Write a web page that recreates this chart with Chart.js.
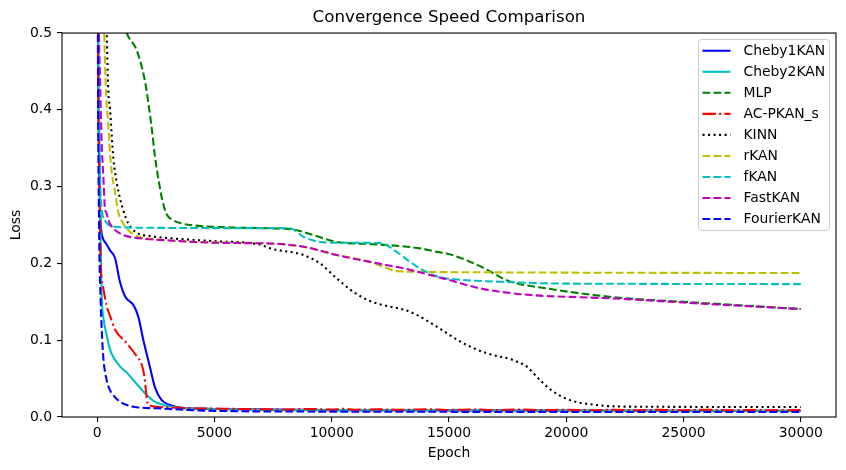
<!DOCTYPE html>
<html>
<head>
<meta charset="utf-8">
<script src="https://cdn.jsdelivr.net/npm/chart.js@4.4.1/dist/chart.umd.min.js"></script>
<style>
  html, body { margin: 0; padding: 0; background: #fff; }
  #wrap { width: 846px; height: 470px; position: relative; }
</style>
</head>
<body>
<div id="wrap"><canvas id="lossChart"></canvas></div>
<script>
// --- DATA ---
const seriesNames = ['Cheby1KAN', 'Cheby2KAN', 'MLP', 'AC-PKAN_s', 'KINN', 'rKAN', 'fKAN', 'FastKAN', 'FourierKAN'];
const xTicks = [0, 5000, 10000, 15000, 20000, 25000, 30000];
const yTicks = [0, 0.1, 0.2, 0.3, 0.4, 0.5];

// [epoch, loss]
const cheby1 = [[0, 1.0], [40, 0.5], [100, 0.3], [170, 0.245], [230, 0.234], [400, 0.225], [550, 0.217], [760, 0.207],
  [970, 0.176], [1190, 0.157], [1540, 0.146], [1750, 0.131], [1970, 0.100], [2250, 0.065], [2460, 0.039], [2750, 0.022],
  [3100, 0.0156], [3600, 0.012], [5000, 0.0105], [10000, 0.009], [20000, 0.0085], [30000, 0.008]];
const cheby2 = [[0, 1.0], [40, 0.5], [100, 0.35], [150, 0.22], [190, 0.16], [260, 0.13], [405, 0.107], [520, 0.091],
  [650, 0.080], [1000, 0.065], [1260, 0.058], [1540, 0.048], [1830, 0.038], [2100, 0.029], [2400, 0.021], [2900, 0.015],
  [3500, 0.012], [5000, 0.0105], [10000, 0.009], [30000, 0.008]];
const mlp = [[0, 1.0], [500, 0.7], [1000, 0.53], [1260, 0.5], [1680, 0.478], [2040, 0.437], [2200, 0.405], [2350, 0.37],
  [2460, 0.34], [2610, 0.31], [2780, 0.282], [2960, 0.264], [3200, 0.257], [3600, 0.252], [4100, 0.2495], [5520, 0.247],
  [7370, 0.2457], [8300, 0.2444], [8790, 0.241], [9640, 0.2327], [10210, 0.228], [11350, 0.2255], [12350, 0.224],
  [13770, 0.2196], [14480, 0.215], [14900, 0.213], [15760, 0.204], [16610, 0.192], [17460, 0.178], [18030, 0.173],
  [19170, 0.1675], [20590, 0.161], [22580, 0.1545], [25000, 0.150], [30000, 0.1406]];
const acpkan = [[0, 1.0], [40, 0.5], [100, 0.3], [150, 0.2], [190, 0.18], [260, 0.168], [400, 0.145], [545, 0.132],
  [760, 0.114], [1260, 0.096], [1685, 0.079], [1900, 0.068], [2000, 0.055], [2060, 0.04], [2130, 0.02], [2250, 0.015],
  [3000, 0.0125], [4000, 0.0115], [5000, 0.011], [6000, 0.0105], [7000, 0.0102], [8000, 0.0098], [9000, 0.0105],
  [10000, 0.0096], [10500, 0.0108], [11000, 0.0095], [12000, 0.01], [13000, 0.0093], [14000, 0.0102], [15000, 0.0092],
  [16000, 0.0098], [17000, 0.009], [18000, 0.0097], [19000, 0.0089], [20000, 0.0095], [21000, 0.0088], [22000, 0.0094],
  [23000, 0.0087], [24000, 0.0093], [25000, 0.0088], [26000, 0.0094], [27000, 0.0087], [28000, 0.0092], [29000, 0.0086],
  [30000, 0.009]];
const kinn = [[0, 1.0], [200, 0.7], [405, 0.5], [475, 0.424], [545, 0.402], [620, 0.367], [690, 0.337], [830, 0.306],
  [970, 0.285], [1110, 0.2695], [1330, 0.252], [1685, 0.24], [2250, 0.2357], [3245, 0.2325], [5000, 0.229], [6940, 0.2245],
  [7370, 0.2196], [8790, 0.211], [9500, 0.200], [10210, 0.1806], [10920, 0.163], [11630, 0.151], [12350, 0.1445],
  [13050, 0.140], [13620, 0.133], [14480, 0.1176], [15610, 0.096], [16610, 0.083], [17740, 0.074], [18320, 0.0655],
  [18880, 0.048], [19450, 0.033], [20160, 0.022], [21300, 0.0156], [22580, 0.0135], [30000, 0.013]];
const rkan = [[0, 1.0], [150, 0.7], [300, 0.5], [375, 0.424], [475, 0.38], [545, 0.345], [620, 0.319], [760, 0.293],
  [900, 0.267], [1110, 0.252], [1540, 0.238], [2540, 0.2314], [4240, 0.228], [6000, 0.227], [7370, 0.226], [8790, 0.2217],
  [10210, 0.211], [11630, 0.202], [12200, 0.1957], [12770, 0.190], [13770, 0.189], [20000, 0.188], [30000, 0.1875]];
const fkan = [[0, 1.0], [50, 0.5], [120, 0.32], [200, 0.27], [330, 0.256], [690, 0.248], [1830, 0.2465], [5000, 0.246],
  [7370, 0.246], [8220, 0.2457], [8790, 0.2348], [9500, 0.228], [10210, 0.227], [12060, 0.2265], [12770, 0.215],
  [13340, 0.202], [13910, 0.191], [14620, 0.182], [15610, 0.1785], [17740, 0.1755], [19170, 0.174], [22000, 0.1735],
  [30000, 0.173]];
const fastkan = [[0, 1.0], [60, 0.55], [120, 0.445], [190, 0.358], [260, 0.315], [330, 0.272], [405, 0.265],
  [475, 0.2565], [620, 0.248], [760, 0.2435], [1110, 0.237], [1830, 0.2327], [3245, 0.2296], [4380, 0.2275],
  [6000, 0.2265], [7370, 0.226], [8790, 0.2217], [10210, 0.211], [11630, 0.202], [13050, 0.1936], [14480, 0.1827],
  [15050, 0.178], [16320, 0.1675], [17740, 0.161], [19170, 0.1575], [20590, 0.156], [22580, 0.1535], [25000, 0.149],
  [30000, 0.1406]];
const fourier = [[0, 1.0], [30, 0.5], [80, 0.25], [150, 0.15], [200, 0.11], [260, 0.078], [405, 0.048], [545, 0.035],
  [620, 0.031], [970, 0.020], [1540, 0.0134], [2540, 0.0113], [5000, 0.008], [10000, 0.007], [30000, 0.0065]];

const seriesData = [cheby1, cheby2, mlp, acpkan, kinn, rkan, fkan, fastkan, fourier];

// --- STYLES (matplotlib b, c, g, r, k, y, c, m, b) ---
const lw = 2.08;
const dash = [7.7, 3.3];
const dot = [2.08, 3.44];
const dashDot = [13.3, 3.3, 2.08, 3.3];
const seriesColors = ['#0000ff', '#00bfbf', '#008000', '#ff0000', '#000000', '#bfbf00', '#00bfbf', '#bf00bf', '#0000ff'];
const seriesDashes = [[], [], dash, dashDot, dot, dash, dash, dash, dash];

const datasets = seriesNames.map((name, i) => ({
    label: name,
    data: seriesData[i].map(p => ({ x: p[0], y: p[1] })),
    borderColor: seriesColors[i],
    backgroundColor: seriesColors[i],
    borderWidth: lw,
    borderDash: seriesDashes[i],
    pointRadius: 0,
    fill: false,
    cubicInterpolationMode: 'monotone',
    order: seriesNames.length - i   // later series drawn on top, like matplotlib
}));

// frame around the plot area
const framePlugin = {
    id: 'frame',
    afterDatasetsDraw(chart) {
        const { ctx, chartArea: a } = chart;
        ctx.save();
        ctx.strokeStyle = '#000';
        ctx.lineWidth = 1.1;
        ctx.strokeRect(a.left, a.top, a.right - a.left, a.bottom - a.top);
        ctx.restore();
    }
};

// matplotlib-like legend box in the upper right of the plot area
const legendPlugin = {
    id: 'boxLegend',
    afterDraw(chart) {
        const { ctx, chartArea: a } = chart;
        const x0 = a.right - 137.5, y0 = a.top + 6.5, w = 131, h = 191, r = 3;
        ctx.save();
        ctx.beginPath();
        ctx.moveTo(x0 + r, y0);
        ctx.arcTo(x0 + w, y0, x0 + w, y0 + h, r);
        ctx.arcTo(x0 + w, y0 + h, x0, y0 + h, r);
        ctx.arcTo(x0, y0 + h, x0, y0, r);
        ctx.arcTo(x0, y0, x0 + w, y0, r);
        ctx.closePath();
        ctx.fillStyle = 'rgba(255,255,255,0.8)';
        ctx.fill();
        ctx.strokeStyle = '#cccccc';
        ctx.lineWidth = 1;
        ctx.stroke();

        ctx.font = '13.9px "DejaVu Sans"';
        ctx.textBaseline = 'middle';
        ctx.textAlign = 'left';
        chart.data.datasets.forEach((ds, i) => {
            const y = y0 + 11.2 + i * 21.04;
            ctx.beginPath();
            ctx.setLineDash(ds.borderDash);
            ctx.strokeStyle = ds.borderColor;
            ctx.lineWidth = lw;
            ctx.moveTo(x0 + 4, y);
            ctx.lineTo(x0 + 32, y);
            ctx.stroke();
            ctx.setLineDash([]);
            ctx.fillStyle = '#000';
            ctx.fillText(ds.label, x0 + 45, y + 0.5);
        });
        ctx.restore();
    }
};

Chart.defaults.font.family = '"DejaVu Sans", sans-serif';
Chart.defaults.color = '#000';

new Chart(document.getElementById('lossChart'), {
    type: 'line',
    data: { datasets: datasets },
    plugins: [framePlugin, legendPlugin],
    options: {
        responsive: true,
        maintainAspectRatio: false,
        animation: false,
        layout: { padding: { left: 0, right: 10, top: 0, bottom: 0 } },
        plugins: {
            legend: { display: false },
            tooltip: { enabled: false },
            title: {
                display: true,
                fullSize: false,
                text: 'Convergence Speed Comparison',
                color: '#000',
                font: { size: 16.7, weight: 'normal', lineHeight: 1.2 },
                padding: { top: 8, bottom: 5 }
            }
        },
        scales: {
            x: {
                type: 'linear',
                min: -1500,
                max: 31500,
                afterBuildTicks: s => { s.ticks = xTicks.map(v => ({ value: v })); },
                afterFit: s => { s.height = 53; },
                ticks: { font: { size: 13.9 }, padding: 3, maxRotation: 0, callback: v => String(v) },
                grid: { display: true, drawOnChartArea: false, drawTicks: true, tickLength: 5, color: '#000', lineWidth: 1.1 },
                border: { display: false },
                title: { display: true, text: 'Epoch', font: { size: 13.9 }, padding: { top: 0, bottom: 8.7 } }
            },
            y: {
                type: 'linear',
                min: 0,
                max: 0.5,
                afterBuildTicks: s => { s.ticks = yTicks.map(v => ({ value: v })); },
                afterFit: s => { s.width = 62; },
                ticks: { font: { size: 13.9 }, padding: 5, callback: v => v.toFixed(1) },
                grid: { display: true, drawOnChartArea: false, drawTicks: true, tickLength: 5, color: '#000', lineWidth: 1.1 },
                border: { display: false },
                title: { display: true, text: 'Loss', font: { size: 13.9 }, padding: { top: 8, bottom: 0 } }
            }
        }
    }
});
</script>
</body>
</html>
